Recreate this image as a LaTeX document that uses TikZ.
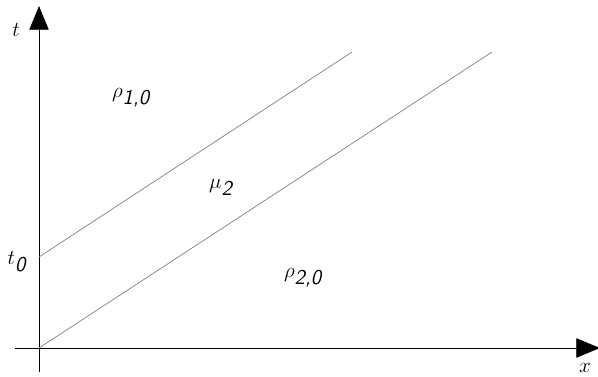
\documentclass[tikz,border=0pt]{standalone}
\usetikzlibrary{arrows.meta}
\tikzset{
    axis/.style={line width=0.5pt, -{Triangle[length=13.5pt, width=11pt]}},
    front/.style={gray, line width=0.4pt},
    lab/.style={inner sep=0pt, font=\large},
}
\newcommand{\subsf}[1]{\textsf{\itshape #1}}
\begin{document}
\begin{tikzpicture}[x=0.02cm, y=-0.02cm, line cap=butt]

            \useasboundingbox (0, 0) rectangle (598, 376);

            % ==========================================
            % 1. Assi
            % ==========================================
            \coordinate (O) at (39, 348);
            \coordinate (xs) at (15, 348);
            \coordinate (xe) at (600, 348);
            \coordinate (ys) at (39, 372);
            \coordinate (ye) at (39, 6);
            \draw[axis] (xs) -- (xe);
            \draw[axis] (ys) -- (ye);
            \node[lab] (tlab) at (16, 30) {$t$};
            \node[lab] (xlab) at (585, 368) {$x$};

            % ==========================================
            % 2. Fronti
            % ==========================================
            \coordinate (T0) at (39, 257);
            \coordinate (A) at (352, 52);
            \coordinate (B) at (492, 52);
            \draw[front] (T0) -- (A);
            \draw[front] (O) -- (B);
            \node[lab] (t0lab) at (17, 262) {$t_{\subsf{0}}$};

            % ==========================================
            % 3. Regioni
            % ==========================================
            \node[lab] (rho1) at (131, 98) {$\rho_{\subsf{1,0}}$};
            \node[lab] (mu2) at (221, 187) {$\mu_{\subsf{2}}$};
            \node[lab] (rho2) at (303, 278) {$\rho_{\subsf{2,0}}$};

        \end{tikzpicture}
\end{document}
